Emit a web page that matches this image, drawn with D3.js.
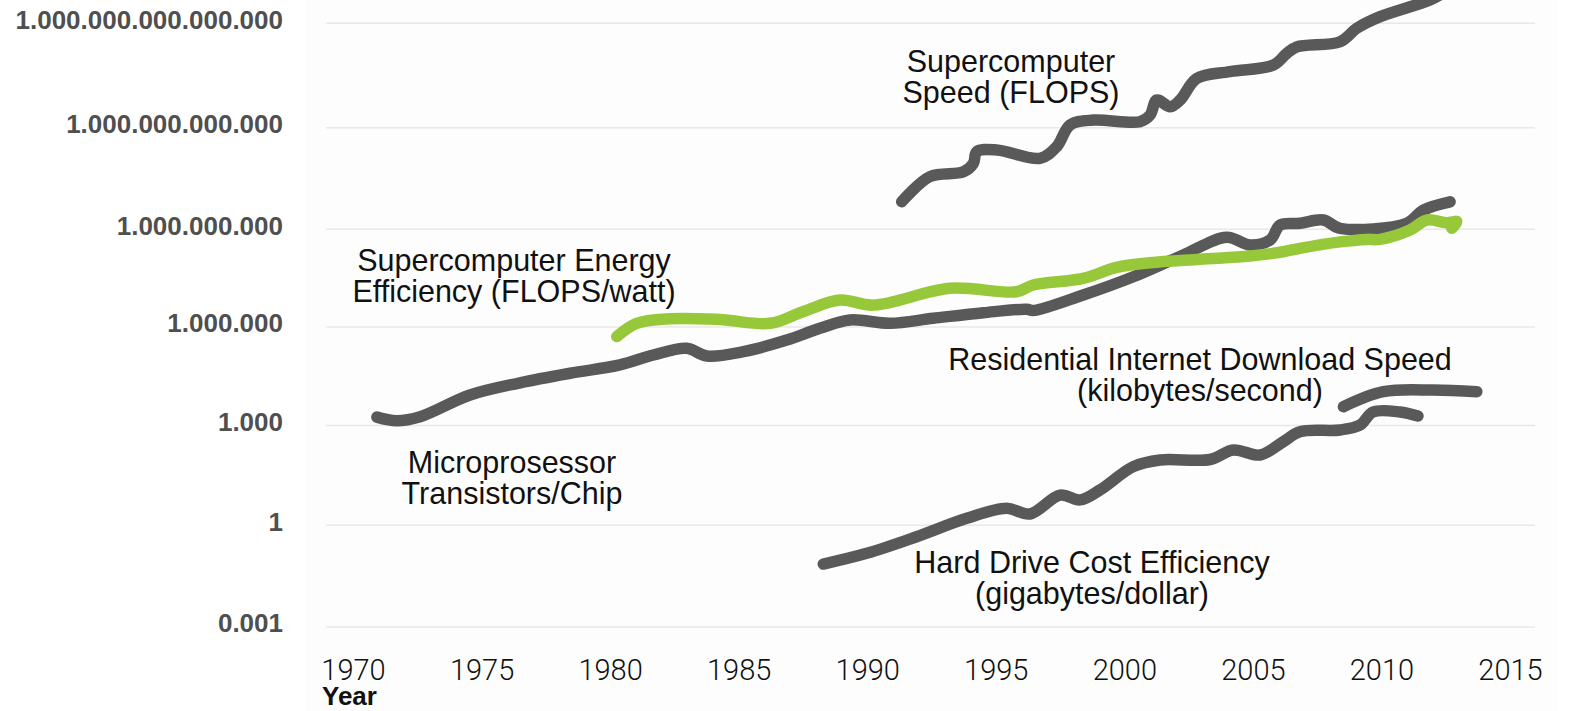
<!DOCTYPE html>
<html>
<head>
<meta charset="utf-8">
<script src="https://cdn.jsdelivr.net/npm/d3@7"></script>
<style>
  html, body { margin: 0; padding: 0; background: #ffffff; }
  svg { display: block; }
</style>
</head>
<body>
<div id="chart"></div>
<script>
// tick values and labels
const yearTicks = [1970, 1975, 1980, 1985, 1990, 1995, 2000, 2005, 2010, 2015]
const yTicks = [1e-3, 1, 1e3, 1e6, 1e9, 1e12, 1e15]
const yTickLabels = ["0.001", "1", "1.000", "1.000.000", "1.000.000.000",
                     "1.000.000.000.000", "1.000.000.000.000.000"]

// series, [year, value]
const transistors = [
  [1970.93, 1800], [1971.70, 1400], [1972.61, 1850], [1974.55, 8500],
  [1976.50, 2.0e4], [1978.44, 3.9e4], [1980.38, 7.0e4], [1981.68, 1.4e5],
  [1982.98, 2.24e5], [1983.76, 1.31e5], [1985.18, 1.77e5], [1986.87, 4.0e5],
  [1988.16, 9.1e5], [1989.33, 1.64e6], [1990.89, 1.3e6], [1992.57, 1.85e6],
  [1994.52, 2.75e6], [1996.20, 3.5e6], [1996.45, 3.2e6], [1998.40, 9.6e6],
  [2000.35, 3.5e7], [2002.29, 1.63e8], [2003.98, 5.7e8], [2004.89, 3.3e8],
  [2005.67, 4.7e8], [2006.06, 1.34e9], [2006.83, 1.5e9], [2007.74, 1.88e9],
  [2008.39, 1.07e9], [2010.98, 1.5e9], [2011.63, 3.7e9], [2012.67, 6.5e9]
]

const superSpeed = [
  [1991.34, 6.5e9], [1992.44, 3.6e10], [1993.74, 5.0e10], [1994.13, 8.9e10],
  [1994.26, 1.95e11], [1995.04, 2.2e11], [1996.72, 1.25e11], [1997.37, 2.75e11],
  [1997.89, 1.2e12], [1998.79, 1.66e12], [2000.61, 1.49e12], [2001.00, 2.3e12],
  [2001.26, 6.25e12], [2001.78, 4.0e12], [2002.17, 6.25e12], [2002.82, 2.6e13],
  [2004.11, 4.1e13], [2005.80, 6.3e13], [2006.32, 1.37e14], [2006.71, 2.1e14],
  [2008.39, 2.96e14], [2009.04, 7.2e14], [2009.95, 1.55e15], [2011.89, 4.7e15],
  [2012.47, 8.0e15]
]

const energyEff = [
  [1980.26, 5.1e5], [1981.03, 1.3e6], [1982.33, 1.8e6], [1984.27, 1.7e6],
  [1986.22, 1.3e6], [1987.50, 2.95e6], [1988.94, 6.7e6], [1990.24, 4.7e6],
  [1993.22, 1.54e7], [1995.81, 1.21e7], [1996.46, 1.95e7], [1998.40, 3.1e7],
  [1999.70, 6.8e7], [2001.00, 9.4e7], [2002.94, 1.2e8], [2004.89, 1.51e8],
  [2006.18, 2.05e8], [2006.83, 2.6e8], [2008.39, 4.1e8], [2009.43, 4.9e8],
  [2009.94, 4.9e8], [2011.11, 9.5e8], [2011.76, 1.88e9], [2012.54, 1.57e9],
  [2012.93, 1.68e9], [2012.74, 1.07e9]
]

const hardDrive = [
  [1988.29, 0.072], [1989.98, 0.149], [1991.92, 0.46], [1993.87, 1.62],
  [1995.42, 3.24], [1996.33, 2.19], [1997.50, 8.1], [1998.28, 5.8],
  [1999.05, 11.5], [2000.35, 58], [2001.39, 92], [2003.33, 95],
  [2004.24, 184], [2005.28, 130], [2006.18, 326], [2006.83, 652],
  [2008.39, 733], [2009.17, 1036], [2009.67, 2580], [2010.72, 2580],
  [2011.42, 1950]
]

const internet = [
  [2008.52, 3740], [2010.07, 10700], [2012.02, 12000], [2013.71, 10700]
]

const W = 1571, H = 711

const svg = d3.select("#chart").append("svg")
    .attr("width", W)
    .attr("height", H)

// chart panel
svg.append("rect")
    .attr("x", 305).attr("y", 0)
    .attr("width", 1252).attr("height", H)
    .attr("fill", "#fdfdfd")

// scales
const x = d3.scaleLinear()
    .domain([1970, 2015])
    .range([353, 1510])

// hand drawn grid is not evenly spaced, so one stop per gridline
const y = d3.scaleLog()
    .domain(yTicks)
    .range([627, 525.3, 425.5, 327, 229.3, 127.7, 23.3])

// gridlines
svg.append("g")
    .selectAll("line")
    .data(yTicks)
    .join("line")
    .attr("x1", 326)
    .attr("x2", 1535)
    .attr("y1", d => y(d))
    .attr("y2", d => y(d))
    .attr("stroke", "#ece7e4")
    .attr("stroke-width", 1.5)

// y labels
svg.append("g")
    .selectAll("text")
    .data(yTicks)
    .join("text")
    .attr("x", 283)
    .attr("y", d => y(d) - 4)
    .attr("dy", "0.36em")
    .attr("text-anchor", "end")
    .attr("font-family", "'Liberation Sans', Arial, sans-serif")
    .attr("font-weight", "bold")
    .attr("font-size", 26)
    .attr("fill", "#4f4f4f")
    .text((d, i) => yTickLabels[i])

// x axis
const xAxis = svg.append("g")
    .attr("transform", "translate(0, 649)")
    .call(d3.axisBottom(x).tickValues(yearTicks).tickFormat(d3.format("d")).tickSize(0))

xAxis.select(".domain").remove()
xAxis.selectAll("text")
    .attr("dy", "0.95em")
    .attr("font-family", "Roboto, 'Liberation Sans', sans-serif")
    .attr("font-weight", 300)
    .attr("font-size", 29)
    .attr("fill", "#111")

svg.append("text")
    .attr("x", 322)
    .attr("y", 705)
    .attr("font-family", "'Liberation Sans', Arial, sans-serif")
    .attr("font-weight", "bold")
    .attr("font-size", 26)
    .attr("fill", "#111")
    .text("Year")

// lines
const line = d3.line()
    .x(d => x(d[0]))
    .y(d => y(d[1]))
    .curve(d3.curveCatmullRom.alpha(0.5))

const series = [
  {data: transistors, color: "#595959"},
  {data: superSpeed, color: "#595959"},
  {data: hardDrive, color: "#595959"},
  {data: internet, color: "#595959"},
  {data: energyEff, color: "#97c83a"}
]

svg.append("g")
    .selectAll("path")
    .data(series)
    .join("path")
    .attr("d", d => line(d.data))
    .attr("fill", "none")
    .attr("stroke", d => d.color)
    .attr("stroke-width", 11.5)
    .attr("stroke-linecap", "round")
    .attr("stroke-linejoin", "round")

// annotations
const notes = [
  {lines: ["Supercomputer", "Speed (FLOPS)"], cx: 1011, y: 72},
  {lines: ["Supercomputer Energy", "Efficiency (FLOPS/watt)"], cx: 514, y: 271},
  {lines: ["Microprosessor", "Transistors/Chip"], cx: 512, y: 473},
  {lines: ["Residential Internet Download Speed", "(kilobytes/second)"], cx: 1200, y: 370},
  {lines: ["Hard Drive Cost Efficiency", "(gigabytes/dollar)"], cx: 1092, y: 573}
]

const noteG = svg.append("g")
    .attr("font-family", "'Liberation Sans', Arial, sans-serif")
    .attr("font-size", 30.5)
    .attr("fill", "#111")
    .attr("text-anchor", "middle")

notes.forEach(n => {
    const t = noteG.append("text")
        .attr("x", n.cx)
        .attr("y", n.y)
    t.selectAll("tspan")
        .data(n.lines)
        .join("tspan")
        .attr("x", n.cx)
        .attr("dy", (d, i) => i === 0 ? 0 : 31)
        .text(d => d)
})
</script>
</body>
</html>
